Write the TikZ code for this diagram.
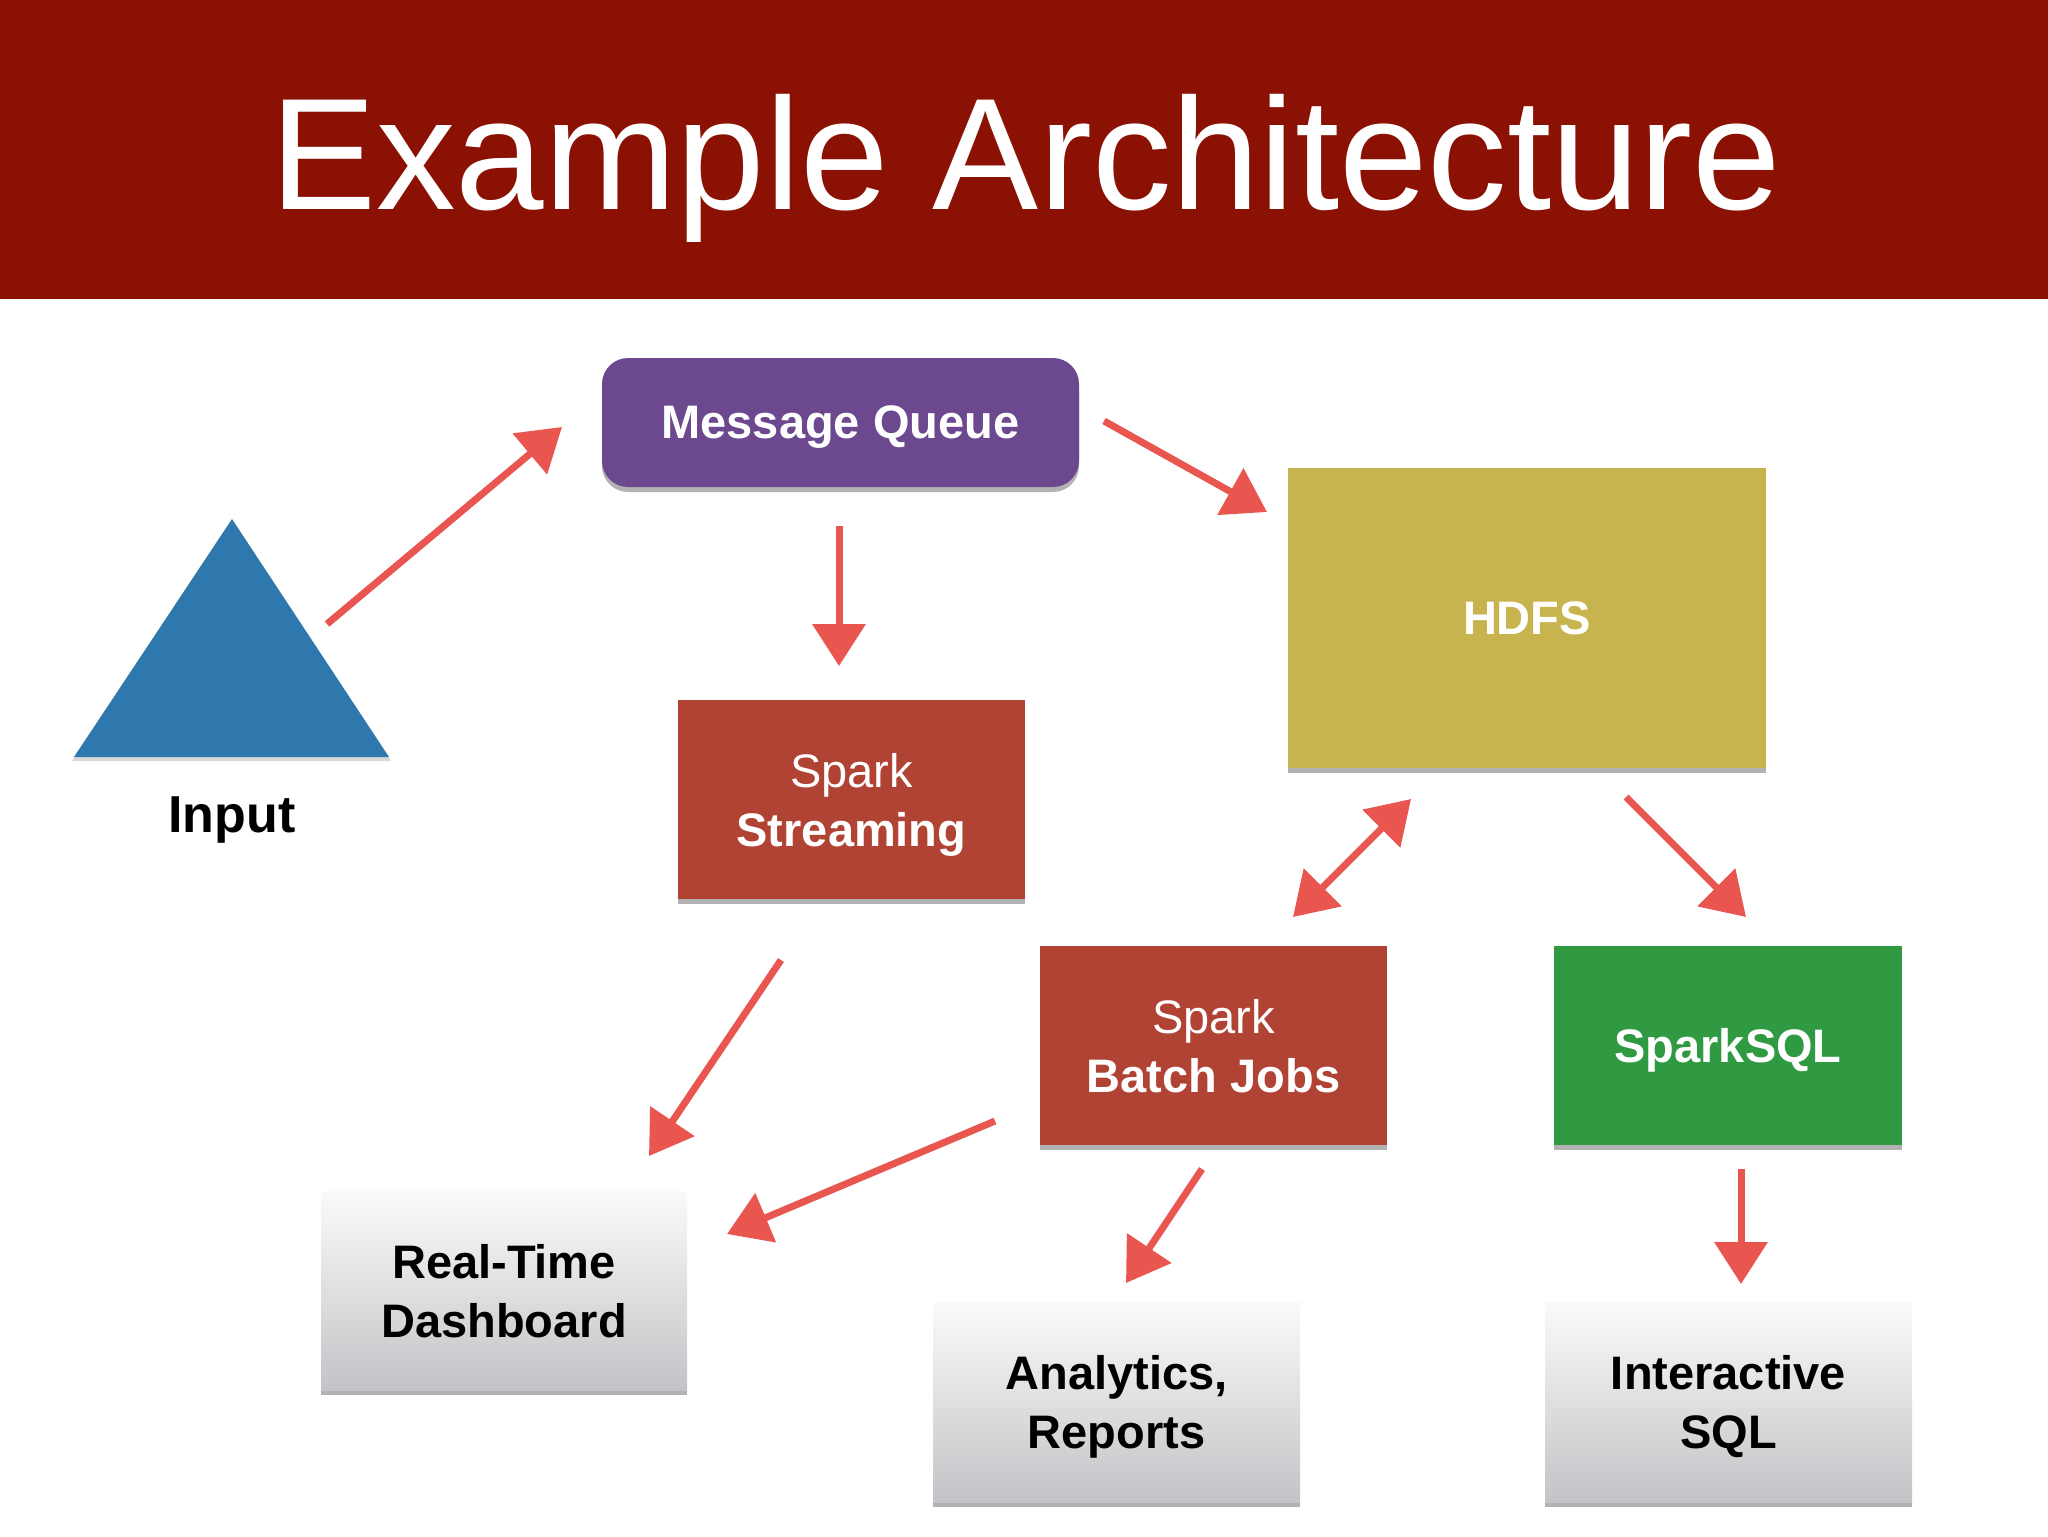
\documentclass[tikz,border=0pt]{standalone}
\usepackage{fontspec}
\setmainfont{Liberation Sans}
\usetikzlibrary{arrows.meta,shadows}
\definecolor{titlered}{RGB}{138,17,3}
\definecolor{mqpurple}{RGB}{108,73,143}
\definecolor{sparkred}{RGB}{176,67,52}
\definecolor{hdfsolive}{RGB}{199,180,78}
\definecolor{sqlgreen}{RGB}{48,154,66}
\definecolor{inputblue}{RGB}{46,120,174}
\definecolor{arrowred}{RGB}{233,86,80}
\definecolor{boxtop}{RGB}{250,250,250}
\definecolor{boxbot}{RGB}{196,196,200}
\begin{document}
\begin{tikzpicture}[x=0.5pt,y=-0.5pt,
  card/.style={inner sep=0pt, align=center, text=white, text depth=0pt,
    font=\fontsize{23.5pt}{29.5pt}\selectfont\bfseries,
    drop shadow={shadow xshift=0pt, shadow yshift=-2.5pt, opacity=0.3, fill=black}},
  smallcard/.style={card, minimum width=173.5pt, minimum height=99.5pt},
  graycard/.style={card, text=black, top color=boxtop, bottom color=boxbot,
    minimum width=183.5pt, minimum height=100pt},
  arr/.style={draw=arrowred, line width=3.5pt, -{Triangle[length=21pt,width=26pt]}},
  darr/.style={draw=arrowred, line width=3.5pt, {Triangle[length=21pt,width=26pt]}-{Triangle[length=21pt,width=26pt]}}
]
\useasboundingbox (0,0) rectangle (2048,1536);
\fill[white] (0,0) rectangle (2048,1536);
% title band
\fill[titlered] (0,0) rectangle (2048,299);
\node[anchor=base, inner sep=0pt, text=white, font=\fontsize{79.5pt}{90pt}\selectfont] (title) at (1026,209) {Example Architecture};

% input triangle
\fill[black, opacity=0.15] (232,522) -- (391,761) -- (72,761) -- cycle;
\fill[inputblue] (232,519) -- (389,757) -- (74,757) -- cycle;
\coordinate (input) at (232,680);
\node[inner sep=0pt, text depth=0pt, font=\fontsize{26pt}{30pt}\selectfont\bfseries] (inputlbl) at (232,815) {Input};

% boxes
\node[card, fill=mqpurple, rounded corners=13pt, minimum width=238.5pt, minimum height=64.5pt] (mq) at (840.5,422.5) {Message Queue};
\node[smallcard, fill=sparkred] (stream) at (851.5,799.5) {{\mdseries Spark}\\Streaming};
\node[card, fill=hdfsolive, minimum width=239pt, minimum height=150pt] (hdfs) at (1527,618) {HDFS};
\node[smallcard, fill=sparkred] (batch) at (1213.5,1045.5) {{\mdseries Spark}\\Batch Jobs};
\node[smallcard, fill=sqlgreen, minimum width=174pt] (sql) at (1728,1045.5) {SparkSQL};
\node[graycard, minimum width=183pt, minimum height=99.5pt] (dash) at (504,1290.5) {Real-Time\\Dashboard};
\node[graycard] (analytics) at (1116.5,1402) {Analytics,\\Reports};
\node[graycard] (interactive) at (1728.5,1402) {Interactive\\SQL};

% arrow end points
\coordinate (a1s) at (327,624);  \coordinate (a1e) at (562,427);
\coordinate (a2s) at (1104,421); \coordinate (a2e) at (1267,512);
\coordinate (a3s) at (839,526);  \coordinate (a3e) at (839,666);
\coordinate (a4s) at (1411,799); \coordinate (a4e) at (1293,917);
\coordinate (a5s) at (1626,797); \coordinate (a5e) at (1746,917);
\coordinate (a6s) at (781,960);  \coordinate (a6e) at (649,1156);
\coordinate (a7s) at (995,1121); \coordinate (a7e) at (727,1234);
\coordinate (a8s) at (1202,1169);\coordinate (a8e) at (1126,1283);
\coordinate (a9s) at (1741,1169);\coordinate (a9e) at (1741,1284);

\draw[arr] (a1s) -- (a1e);
\draw[arr] (a2s) -- (a2e);
\draw[arr] (a3s) -- (a3e);
\draw[darr] (a4s) -- (a4e);
\draw[arr] (a5s) -- (a5e);
\draw[arr] (a6s) -- (a6e);
\draw[arr] (a7s) -- (a7e);
\draw[arr] (a8s) -- (a8e);
\draw[arr] (a9s) -- (a9e);
\end{tikzpicture}
\end{document}
